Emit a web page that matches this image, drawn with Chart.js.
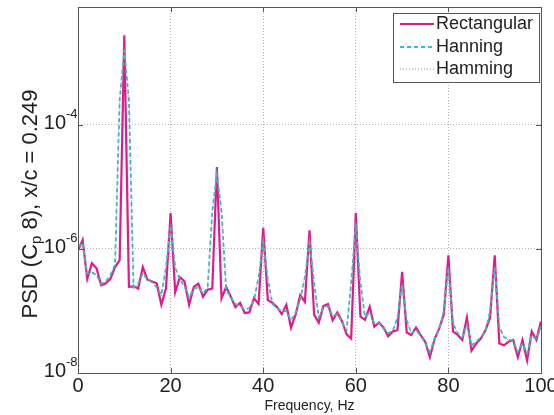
<!DOCTYPE html>
<html>
<head>
<meta charset="utf-8">
<script src="https://cdn.jsdelivr.net/npm/chart.js@4.4.1/dist/chart.umd.min.js"></script>
<style>
  html, body { margin: 0; padding: 0; background: #fff; }
  #wrap { width: 554px; height: 415px; }
</style>
</head>
<body>
<div id="wrap"><canvas id="myChart"></canvas></div>
<script>
var FONT = "'Liberation Sans', Arial, sans-serif";

// frequency bins, Hz
var freq = [0, 1, 2, 3, 4, 5, 6, 7, 8, 9, 10, 11, 12, 13, 14, 15, 16, 17, 18, 19,
  20, 21, 22, 23, 24, 25, 26, 27, 28, 29, 30, 31, 32, 33, 34, 35, 36, 37, 38, 39,
  40, 41, 42, 43, 44, 45, 46, 47, 48, 49, 50, 51, 52, 53, 54, 55, 56, 57, 58, 59,
  60, 61, 62, 63, 64, 65, 66, 67, 68, 69, 70, 71, 72, 73, 74, 75, 76, 77, 78, 79,
  80, 81, 82, 83, 84, 85, 86, 87, 88, 89, 90, 91, 92, 93, 94, 95, 96, 97, 98, 99, 100];

var rectangular = [9.5e-7, 1.4e-6, 3.3e-7, 5.9e-7, 4.9e-7, 2.6e-7, 2.8e-7, 3.3e-7, 5.1e-7, 6.6e-7,
  2.8e-3, 2.45e-7, 2.5e-7, 2.3e-7, 5.1e-7, 3.2e-7, 3.0e-7, 2.8e-7, 1.26e-7, 2.3e-7,
  3.8e-6, 2.0e-7, 3.5e-7, 3.0e-7, 1.26e-7, 2.45e-7, 2.75e-7, 1.7e-7, 2.2e-7, 2.3e-7,
  2.1e-5, 1.6e-7, 2.45e-7, 1.7e-7, 1.15e-7, 1.35e-7, 9.3e-8, 9.5e-8, 1.6e-7, 1.3e-7,
  2.2e-6, 1.5e-7, 1.35e-7, 1.15e-7, 8.9e-8, 1.26e-7, 5.4e-8, 8.7e-8, 1.8e-7, 1.4e-7,
  2.0e-6, 8.7e-8, 6.5e-8, 1.2e-7, 1.3e-7, 7.1e-8, 9.5e-8, 6.9e-8, 4.2e-8, 3.6e-8,
  3.8e-6, 8.1e-8, 7.2e-8, 1.17e-7, 5.6e-8, 6.5e-8, 5.4e-8, 3.9e-8, 4.7e-8, 4.9e-8,
  4.3e-7, 4.5e-8, 4.1e-8, 5.4e-8, 4.1e-8, 3.2e-8, 1.8e-8, 3.5e-8, 5.2e-8, 8.7e-8,
  7.9e-7, 4.7e-8, 4.1e-8, 3.4e-8, 7.8e-8, 2.3e-8, 3.0e-8, 3.6e-8, 4.9e-8, 7.8e-8,
  7.9e-7, 3.0e-8, 2.8e-8, 3.2e-8, 3.4e-8, 1.8e-8, 3.4e-8, 1.6e-8, 4.7e-8, 3.4e-8, 6.8e-8];

var hanning = [1.1e-6, 1.26e-6, 4.0e-7, 4.2e-7, 3.8e-7, 2.75e-7, 3.0e-7, 3.8e-7, 5.6e-7, 2.5e-4,
  1.6e-3, 2.5e-4, 2.4e-7, 2.8e-7, 4.0e-7, 3.2e-7, 2.9e-7, 2.4e-7, 1.8e-7, 5.0e-7,
  2.4e-6, 5.0e-7, 3.2e-7, 2.5e-7, 1.66e-7, 2.3e-7, 2.4e-7, 1.9e-7, 2.4e-7, 4.0e-6,
  1.6e-5, 4.0e-6, 2.2e-7, 1.66e-7, 1.3e-7, 1.2e-7, 1.05e-7, 1.12e-7, 1.45e-7, 3.5e-7,
  1.3e-6, 3.2e-7, 1.3e-7, 1.1e-7, 1.0e-7, 1.0e-7, 7.1e-8, 9.5e-8, 1.5e-7, 3.5e-7,
  1.26e-6, 2.8e-7, 7.9e-8, 1.1e-7, 1.2e-7, 8.3e-8, 8.9e-8, 6.6e-8, 4.8e-8, 2.8e-7,
  2.5e-6, 2.8e-7, 7.9e-8, 9.5e-8, 6.3e-8, 6.3e-8, 5.2e-8, 4.4e-8, 4.8e-8, 7.9e-8,
  2.75e-7, 7.1e-8, 4.4e-8, 4.8e-8, 4.0e-8, 3.0e-8, 2.2e-8, 3.5e-8, 5.0e-8, 1.0e-7,
  5.0e-7, 6.3e-8, 4.4e-8, 3.8e-8, 6.0e-8, 2.8e-8, 3.2e-8, 3.8e-8, 4.5e-8, 1.0e-7,
  5.0e-7, 5.6e-8, 3.8e-8, 3.5e-8, 3.3e-8, 2.2e-8, 3.0e-8, 2.1e-8, 4.0e-8, 3.5e-8, 5.6e-8];

var hamming = [1.08e-6, 1.28e-6, 3.9e-7, 4.3e-7, 3.8e-7, 2.7e-7, 3.0e-7, 3.7e-7, 5.5e-7, 2.6e-4,
  1.8e-3, 2.6e-4, 2.4e-7, 2.7e-7, 4.1e-7, 3.2e-7, 2.9e-7, 2.4e-7, 1.75e-7, 5.2e-7,
  2.6e-6, 5.2e-7, 3.2e-7, 2.5e-7, 1.6e-7, 2.3e-7, 2.4e-7, 1.85e-7, 2.4e-7, 4.2e-6,
  1.7e-5, 4.2e-6, 2.2e-7, 1.65e-7, 1.3e-7, 1.2e-7, 1.04e-7, 1.1e-7, 1.45e-7, 3.6e-7,
  1.4e-6, 3.3e-7, 1.3e-7, 1.1e-7, 9.8e-8, 1.0e-7, 6.9e-8, 9.4e-8, 1.5e-7, 3.6e-7,
  1.35e-6, 2.9e-7, 7.7e-8, 1.1e-7, 1.2e-7, 8.2e-8, 8.9e-8, 6.5e-8, 4.7e-8, 2.9e-7,
  2.7e-6, 2.9e-7, 7.8e-8, 9.6e-8, 6.2e-8, 6.3e-8, 5.1e-8, 4.3e-8, 4.8e-8, 8.0e-8,
  2.9e-7, 7.2e-8, 4.3e-8, 4.8e-8, 3.9e-8, 2.9e-8, 2.1e-8, 3.5e-8, 5.0e-8, 1.02e-7,
  5.3e-7, 6.4e-8, 4.3e-8, 3.7e-8, 6.1e-8, 2.7e-8, 3.1e-8, 3.8e-8, 4.6e-8, 1.02e-7,
  5.3e-7, 5.7e-8, 3.7e-8, 3.4e-8, 3.3e-8, 2.1e-8, 3.0e-8, 2.0e-8, 4.1e-8, 3.5e-8, 5.7e-8];

var xTicks = [0, 20, 40, 60, 80, 100];
var yTicks = [1e-8, 1e-6, 1e-4];
var yTickExp = ['-8', '-6', '-4'];

function points(vals) {
  return freq.map(function (f, i) { return { x: f, y: vals[i] }; });
}

var decor = {
  id: 'decor',
  afterDraw: function (chart) {
    var ctx = chart.ctx, a = chart.chartArea, xs = chart.scales.x, ys = chart.scales.y;
    ctx.save();

    // axes box and inward tick marks
    ctx.strokeStyle = '#555';
    ctx.lineWidth = 1;
    ctx.setLineDash([]);
    ctx.strokeRect(Math.round(a.left) + 0.5, Math.round(a.top) + 0.5,
      Math.round(a.right - a.left), Math.round(a.bottom - a.top));
    ctx.beginPath();
    yTicks.forEach(function (v) {
      var py = Math.round(ys.getPixelForValue(v)) + 0.5;
      ctx.moveTo(a.left, py); ctx.lineTo(a.left + 5, py);
      ctx.moveTo(a.right, py); ctx.lineTo(a.right - 5, py);
    });
    xTicks.forEach(function (v) {
      var px = Math.round(xs.getPixelForValue(v)) + 0.5;
      ctx.moveTo(px, a.bottom); ctx.lineTo(px, a.bottom - 5);
      ctx.moveTo(px, a.top); ctx.lineTo(px, a.top + 5);
    });
    ctx.stroke();

    ctx.fillStyle = '#222';
    // y tick labels 10^n
    yTicks.forEach(function (v, i) {
      var py = ys.getPixelForValue(v);
      ctx.font = '20px ' + FONT;
      ctx.textAlign = 'right';
      ctx.textBaseline = 'middle';
      ctx.fillText('10', 66, py - 2);
      ctx.font = '13px ' + FONT;
      ctx.textAlign = 'left';
      ctx.fillText(yTickExp[i], 66, py - 11);
    });

    // x tick labels
    ctx.font = '20px ' + FONT;
    ctx.textAlign = 'center';
    ctx.textBaseline = 'top';
    xTicks.forEach(function (v) {
      ctx.fillText(String(v), xs.getPixelForValue(v), a.bottom + 3);
    });

    // x title
    ctx.font = '14px ' + FONT;
    ctx.textBaseline = 'middle';
    ctx.fillText('Frequency, Hz', (a.left + a.right) / 2, 406);

    // y title with subscript
    ctx.save();
    ctx.translate(31, 204);
    ctx.rotate(-Math.PI / 2);
    var parts = [['PSD (C', '22px ' + FONT, 0], ['p', '15px ' + FONT, 6], [' 8), x/c = 0.249', '22px ' + FONT, 0]];
    var total = 0;
    parts.forEach(function (p) { ctx.font = p[1]; total += ctx.measureText(p[0]).width; });
    var cx = -total / 2;
    ctx.textAlign = 'left';
    parts.forEach(function (p) {
      ctx.font = p[1];
      ctx.fillText(p[0], cx, p[2]);
      cx += ctx.measureText(p[0]).width;
    });
    ctx.restore();

    // legend
    var lx = 393, ly = 13, lw = 146, lh = 69;
    ctx.fillStyle = '#fff';
    ctx.fillRect(lx, ly, lw, lh);
    ctx.strokeStyle = '#555';
    ctx.lineWidth = 1;
    ctx.strokeRect(lx + 0.5, ly + 0.5, lw, lh);
    var rowY = [24, 47, 69];
    chart.data.datasets.forEach(function (ds, i) {
      ctx.beginPath();
      ctx.strokeStyle = ds.borderColor;
      ctx.lineWidth = ds.borderWidth;
      ctx.setLineDash(ds.borderDash || []);
      ctx.moveTo(400, rowY[i]);
      ctx.lineTo(434, rowY[i]);
      ctx.stroke();
      ctx.setLineDash([]);
      ctx.fillStyle = '#222';
      ctx.font = '18px ' + FONT;
      ctx.textAlign = 'left';
      ctx.textBaseline = 'middle';
      ctx.fillText(ds.label, 436, rowY[i]);
    });

    ctx.restore();
  }
};

var ctx = document.getElementById('myChart').getContext('2d');
var myChart = new Chart(ctx, {
  type: 'line',
  data: {
    datasets: [{
      label: 'Rectangular',
      data: points(rectangular),
      borderColor: '#e2188f',
      borderWidth: 2.2,
      order: 3
    },
    {
      label: 'Hanning',
      data: points(hanning),
      borderColor: '#2cc2ca',
      borderWidth: 1.8,
      borderDash: [4, 3],
      order: 2
    },
    {
      label: 'Hamming',
      data: points(hamming),
      borderColor: '#8e9688',
      borderWidth: 1,
      borderDash: [1, 2],
      order: 1
    }]
  },
  options: {
    responsive: true,
    maintainAspectRatio: false,
    animation: false,
    layout: { padding: { top: 7, right: 13, left: 0, bottom: 0 } },
    elements: {
      point: { radius: 0 },
      line: { tension: 0, fill: false }
    },
    plugins: {
      legend: { display: false },
      tooltip: { enabled: false }
    },
    scales: {
      x: {
        type: 'linear',
        min: 0,
        max: 100,
        afterBuildTicks: function (scale) {
          scale.ticks = xTicks.map(function (v) { return { value: v }; });
        },
        afterFit: function (scale) { scale.height = 42; },
        ticks: { display: false },
        grid: { color: '#b4b4b4', drawTicks: false },
        border: { display: false, dash: [1, 2] }
      },
      y: {
        type: 'logarithmic',
        min: 1e-8,
        max: 8e-3,
        afterBuildTicks: function (scale) {
          scale.ticks = yTicks.map(function (v) { return { value: v }; });
        },
        afterFit: function (scale) { scale.width = 78; },
        ticks: { display: false },
        grid: { color: '#b4b4b4', drawTicks: false },
        border: { display: false, dash: [1, 2] }
      }
    }
  },
  plugins: [decor]
});
</script>
</body>
</html>
